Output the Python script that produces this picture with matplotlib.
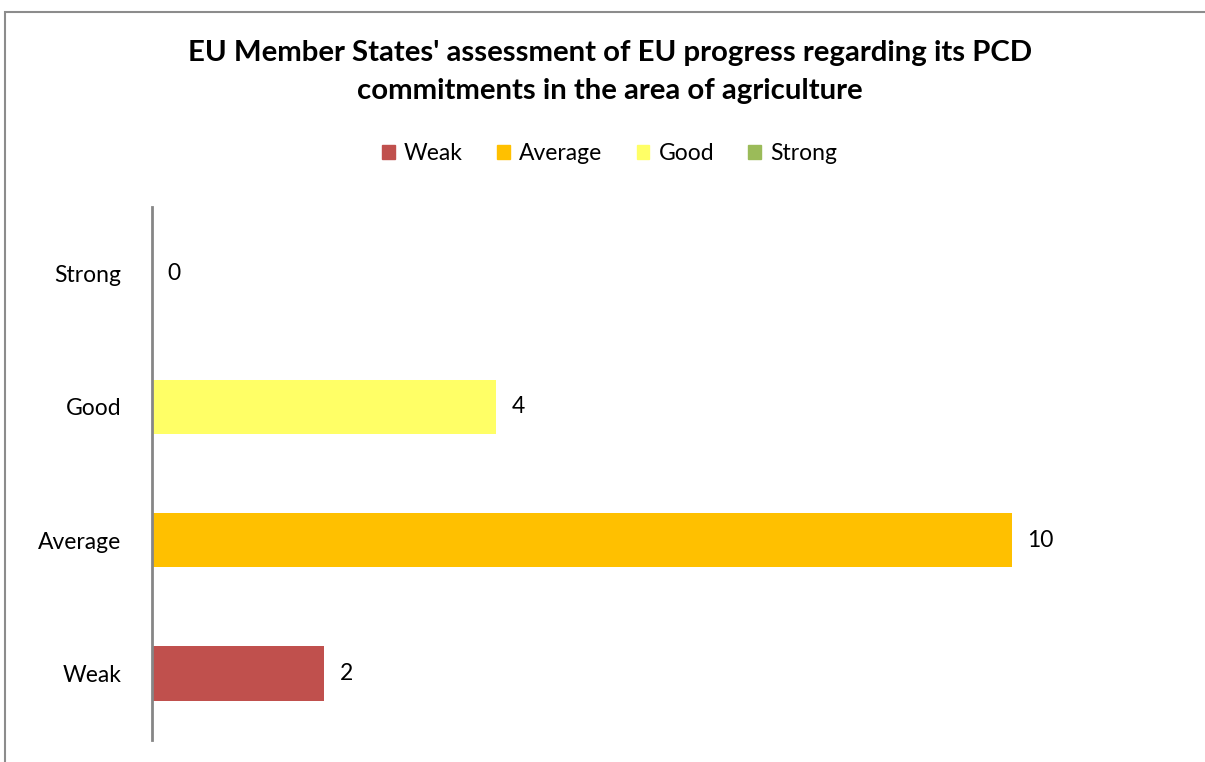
import matplotlib
matplotlib.use('Agg')
import matplotlib.pyplot as plt
from matplotlib.patches import Rectangle, Patch

plt.rcParams['font.family'] = ['Lato', 'DejaVu Sans']

categories = ['Weak', 'Average', 'Good', 'Strong']
values = [2, 10, 4, 0]
colors = ['#C0504D', '#FFC000', '#FFFF66', '#9BBB59']
title = "EU Member States' assessment of EU progress regarding its PCD\ncommitments in the area of agriculture"

fig = plt.figure(figsize=(12.05, 7.62), dpi=100)
ax = fig.add_axes([152 / 1205, 22 / 762, (1184 - 152) / 1205, (740 - 207) / 762])

pos = range(len(categories))
bars = ax.barh(pos, values, height=0.41, color=colors)
ax.set_xlim(0, 12)
ax.set_ylim(-0.5, 3.5)
ax.set_yticks(list(pos))
ax.set_yticklabels(categories, fontsize=16.5)
ax.tick_params(axis='y', length=0, pad=22)
ax.set_xticks([])
for s in ['top', 'right', 'bottom']:
    ax.spines[s].set_visible(False)
ax.spines['left'].set_color('#868686')
ax.spines['left'].set_linewidth(2)

for b, v in zip(bars, values):
    ax.text(v + 0.18, b.get_y() + b.get_height() / 2, str(v),
            va='center', ha='left', fontsize=16.5)

fig.text(0.506, 1 - 72 / 762, title, ha='center', va='center',
         fontsize=21.2, fontweight='bold', linespacing=1.55)

handles = [Patch(color=c, label=l) for c, l in zip(colors, categories)]
fig.legend(handles=handles, loc='center', bbox_to_anchor=(0.506, 1 - 154 / 762),
           ncol=4, frameon=False, fontsize=16.5, handlelength=0.55, handleheight=0.55,
           handletextpad=0.4, columnspacing=1.5)

fig.patches.append(Rectangle((5 / 1205, -0.1), 1.2, (762 - 12) / 762 + 0.1,
                             transform=fig.transFigure, fill=False,
                             edgecolor='#8c8c8c', linewidth=1.5))

fig.savefig('out.png', dpi=100, facecolor='white')
